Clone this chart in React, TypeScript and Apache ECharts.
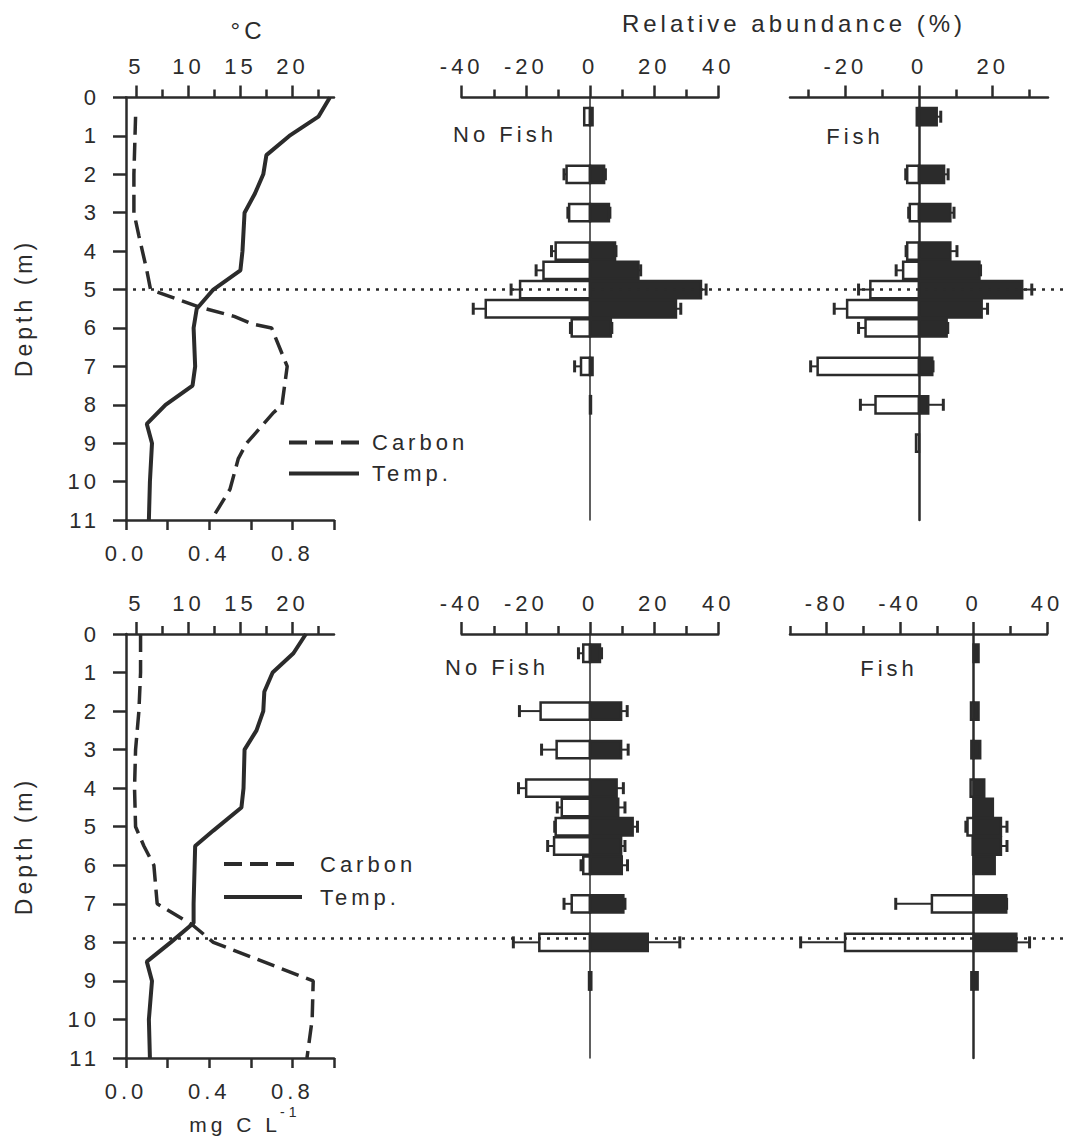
import React, { useEffect, useRef } from 'react';
import * as echarts from 'echarts';

const FONT = '"Liberation Sans", Arial, Helvetica, sans-serif';
const INK = '#2b2b2b';

// ---------- profiles (depth in m) ----------
const topTempDepth = [0, 0.5, 1, 1.5, 2, 2.5, 3, 4, 4.5, 5, 5.5, 6, 7, 7.5, 8, 8.5, 9, 10, 11];
const topTemp = [23.6, 22.5, 19.7, 17.5, 17.2, 16.4, 15.4, 15.2, 15.0, 12.4, 10.8, 10.5, 10.65, 10.4, 7.8, 6.0, 6.5, 6.3, 6.2];
const topCarbonDepth = [0.5, 2, 3, 3.6, 4.5, 5, 5.45, 5.7, 5.9, 6, 7, 8, 8.2, 9, 9.4, 10.2, 11];
const topCarbon = [0.046, 0.038, 0.038, 0.062, 0.1, 0.118, 0.35, 0.52, 0.61, 0.7, 0.775, 0.75, 0.71, 0.58, 0.54, 0.5, 0.41];

const botTempDepth = [0, 0.5, 1, 1.5, 2, 2.5, 3, 4, 4.5, 5.1, 5.5, 7, 7.5, 8, 8.5, 9, 10, 11];
const botTemp = [21.3, 20.1, 18.1, 17.3, 17.2, 16.55, 15.4, 15.3, 15.1, 12.4, 10.65, 10.5, 10.5, 8.3, 6.0, 6.5, 6.2, 6.3];
const botCarbonDepth = [0, 1, 2, 3, 4, 5, 5.5, 6, 7, 7.55, 8, 9, 10, 11];
const botCarbon = [0.07, 0.07, 0.062, 0.046, 0.041, 0.046, 0.086, 0.134, 0.15, 0.32, 0.42, 0.9, 0.895, 0.87];

const topThermocline = 5;
const botThermocline = 7.9;

// ---------- relative abundance (%) ----------
const sampleDepths = [0.5, 2, 3, 4, 4.5, 5, 5.5, 6, 7, 8, 9];

const topNoFishOpen = [-1.8, -7.3, -6.5, -10.7, -14.5, -21.8, -32.5, -5.7, -2.8, 0, 0];
const topNoFishOpenSE = [0, 0.8, 0.4, 1.3, 2.3, 2.8, 3.9, 0.4, 2.0, 0, 0];
const topNoFishFilled = [0.8, 4.4, 5.9, 7.8, 15.1, 34.6, 26.8, 6.5, 0.8, 0.3, 0];
const topNoFishFilledSE = [0, 0.4, 0.3, 0.3, 0.7, 1.6, 1.5, 0.3, 0, 0, 0];

const topFishOpen = [-0.6, -3.2, -2.5, -3.2, -4.3, -13.2, -19.5, -14.5, -27.5, -11.8, -0.8];
const topFishOpenSE = [0, 0.4, 0.3, 0.3, 1.9, 3.2, 3.5, 1.9, 1.9, 4.1, 0];
const topFishFilled = [4.8, 6.8, 8.5, 8.5, 16.4, 28, 17, 7.5, 3.6, 2.5, 0];
const topFishFilledSE = [1.1, 1.1, 1.0, 1.8, 0.3, 2.6, 1.6, 0.3, 0.2, 4.1, 0];

const botNoFishOpen = [-2.1, -15.4, -10.4, -19.9, -8.8, -10.7, -11.2, -2.1, -5.7, -15.8, -0.3];
const botNoFishOpenSE = [1.5, 6.6, 4.7, 2.4, 1.4, 0.3, 2.0, 0.7, 2.4, 8.1, 0];
const botNoFishFilled = [3.1, 9.7, 9.7, 8.3, 8.8, 13.3, 9.7, 9.9, 10.4, 18, 0.4];
const botNoFishFilledSE = [0.5, 1.9, 2.2, 2.1, 2.1, 1.5, 1.2, 1.8, 0.5, 10, 0];

const botFishOpen = [0, -1.4, -1.2, -1.6, 0, -3.3, -0.5, 0, -22.7, -70, -1.2];
const botFishOpenSE = [0, 0, 0, 0, 0, 0.9, 0, 0, 19.7, 24.2, 0];
const botFishFilled = [2.7, 2.7, 3.6, 5.8, 10.5, 14.9, 14.9, 11.5, 17.8, 23.3, 2.2];
const botFishFilledSE = [0, 0, 0, 0, 0, 3.3, 3.3, 0, 0.2, 7.2, 0];

// ---------- tick values ----------
const tempMajor = [5, 10, 15, 20];
const tempMinor = [7.5, 12.5, 17.5, 22.5];
const noFishMajor = [-40, -20, 0, 20, 40];
const noFishMinor = [-30, -10, 10, 30];
const topFishMajor = [-20, 0, 20];
const topFishMinor = [-30, -10, 10, 30];
const botFishMajor = [-80, -40, 0, 40];
const botFishMinor = [-100, -60, -20, 20];

const BAR_SPAN = 0.45; // bar thickness in metres of depth

const zip = (xs: number[], ys: number[]) => xs.map((x, i) => [x, ys[i]]);
const barData = (vals: number[], se: number[]) => sampleDepths.map((d, i) => [vals[i], d, se[i]]);

const axisLineStyle = { color: INK, width: 2.5 };
const labelBase = { fontSize: 22, color: INK, fontFamily: FONT };

function tickAxes(grid: number, pos: string, min: number, max: number, majors: number[], minors: number[], labels: number[], margin: number) {
  return [
    {
      type: 'value', gridIndex: grid, position: pos, min, max,
      axisLine: { show: true, onZero: false, lineStyle: axisLineStyle },
      axisTick: { show: true, inside: false, length: 12, customValues: majors, lineStyle: { color: INK, width: 2.5 } },
      axisLabel: { show: true, customValues: labels, formatter: (v: number) => String(v), margin, ...labelBase },
      splitLine: { show: false },
    },
    {
      type: 'value', gridIndex: grid, position: pos, min, max,
      axisLine: { show: false, onZero: false },
      axisTick: { show: true, inside: false, length: 8, customValues: minors, lineStyle: { color: INK, width: 2.5 } },
      axisLabel: { show: false },
      splitLine: { show: false },
    },
  ];
}

function carbonAxis(grid: number) {
  return {
    type: 'value', gridIndex: grid, position: 'bottom', min: 0, max: 1, interval: 0.2,
    axisLine: { show: true, onZero: false, lineStyle: axisLineStyle },
    axisTick: { show: true, inside: false, length: 10, lineStyle: { color: INK, width: 2.5 } },
    axisLabel: {
      margin: 22, ...labelBase,
      formatter: (v: number) => (Math.round(v * 10) % 4 === 0 && v < 0.95 ? v.toFixed(1) : ''),
    },
    splitLine: { show: false },
  };
}

function depthAxisLeft(grid: number) {
  return {
    type: 'value', gridIndex: grid, min: 0, max: 11, interval: 1, inverse: true, position: 'left',
    axisLine: { show: true, onZero: false, lineStyle: axisLineStyle },
    axisTick: { show: true, inside: false, length: 13, lineStyle: { color: INK, width: 2.5 } },
    axisLabel: { margin: 26, ...labelBase },
    splitLine: { show: false },
  };
}

function depthAxisZero(grid: number, xIdx: number, w: number) {
  return {
    type: 'value', gridIndex: grid, min: 0, max: 11, interval: 1, inverse: true,
    axisLine: { show: true, onZero: true, onZeroAxisIndex: xIdx, lineStyle: { color: INK, width: w } },
    axisTick: { show: false }, axisLabel: { show: false }, splitLine: { show: false },
  };
}

const barRender = (fill: string) => (params: any, api: any) => {
  const v = api.value(0);
  const d = api.value(1);
  const se = api.value(2);
  if (!v) return null;
  const p0 = api.coord([0, d]);
  const p1 = api.coord([v, d]);
  const h = api.size([0, BAR_SPAN])[1];
  const children: any[] = [];
  if (se > 0) {
    const pe = api.coord([v + Math.sign(v) * se, d]);
    children.push({ type: 'line', shape: { x1: p1[0], y1: p1[1], x2: pe[0], y2: pe[1] }, style: { stroke: INK, lineWidth: 2 } });
    children.push({ type: 'line', shape: { x1: pe[0], y1: pe[1] - 6, x2: pe[0], y2: pe[1] + 6 }, style: { stroke: INK, lineWidth: 3 } });
  }
  children.push({
    type: 'rect',
    shape: { x: Math.min(p0[0], p1[0]), y: p0[1] - h / 2, width: Math.abs(p1[0] - p0[0]), height: h },
    style: { fill, stroke: INK, lineWidth: 2.5 },
  });
  return { type: 'group', children };
};

function barSeries(name: string, xIdx: number, yIdx: number, vals: number[], se: number[], fill: string) {
  return {
    type: 'custom', name, xAxisIndex: xIdx, yAxisIndex: yIdx, clip: false, z: 3, silent: true,
    encode: { x: 0, y: 1 },
    data: barData(vals, se),
    renderItem: barRender(fill),
  };
}

function thermoSeries(xIdx: number, yIdx: number, depth: number) {
  return {
    type: 'custom', xAxisIndex: xIdx, yAxisIndex: yIdx, clip: false, z: 10, silent: true,
    encode: { x: 0, y: 1 },
    data: [[0, depth]],
    renderItem: (params: any, api: any) => {
      const pt = api.coord([api.value(0), api.value(1)]);
      return {
        type: 'line',
        shape: { x1: pt[0] + 7, y1: pt[1], x2: api.getWidth(), y2: pt[1] },
        style: { stroke: INK, lineWidth: 2.5, lineDash: [3, 6] },
      };
    },
  };
}

function lineSeries(name: string, xIdx: number, yIdx: number, xs: number[], ds: number[], dashed: boolean) {
  return {
    type: 'line', name, xAxisIndex: xIdx, yAxisIndex: yIdx, data: zip(xs, ds),
    symbol: 'none', showSymbol: false, z: 5, silent: true,
    lineStyle: { color: INK, width: dashed ? 3.5 : 4, type: dashed ? [18, 8] : 'solid' },
    itemStyle: { color: INK },
  };
}

function txt(text: string, x: number, y: number, size: number, extra: any = {}, align = 'center') {
  return {
    type: 'text', x, y, silent: true, ...extra,
    style: { text, fontSize: size, fontFamily: FONT, fill: INK, align, verticalAlign: 'middle', textAlign: align, textVerticalAlign: 'middle' },
  };
}

const TOP = 97.5;
const TOP_H = 422.5;
const BOT = 634;
const BOT_H = 424;

const legendCommon = {
  orient: 'vertical', selectedMode: false, padding: 0,
  itemStyle: { opacity: 0 }, lineStyle: { width: 4 },
};

const option: any = {
  animation: false,
  backgroundColor: '#ffffff',
  grid: [
    { left: 126, top: TOP, width: 208, height: TOP_H, outerBoundsMode: 'none' },
    { left: 461.7, top: TOP, width: 256.6, height: TOP_H, outerBoundsMode: 'none' },
    { left: 790, top: TOP, width: 258, height: TOP_H, outerBoundsMode: 'none' },
    { left: 126, top: BOT, width: 208, height: BOT_H, outerBoundsMode: 'none' },
    { left: 461.7, top: BOT, width: 256.6, height: BOT_H, outerBoundsMode: 'none' },
    { left: 790, top: BOT, width: 257, height: BOT_H, outerBoundsMode: 'none' },
  ],
  xAxis: [
    carbonAxis(0), // 0
    ...tickAxes(0, 'top', 4, 24, tempMajor, tempMinor, tempMajor, 20), // 1,2
    ...tickAxes(1, 'top', -40, 40, noFishMajor, noFishMinor, noFishMajor, 20), // 3,4
    ...tickAxes(2, 'top', -35, 35, topFishMajor, topFishMinor, topFishMajor, 20), // 5,6
    carbonAxis(3), // 7
    ...tickAxes(3, 'top', 4, 24, tempMajor, tempMinor, tempMajor, 20), // 8,9
    ...tickAxes(4, 'top', -40, 40, noFishMajor, noFishMinor, noFishMajor, 20), // 10,11
    ...tickAxes(5, 'top', -100, 40, botFishMajor, botFishMinor, botFishMajor, 20), // 12,13
  ],
  yAxis: [
    depthAxisLeft(0),
    depthAxisZero(1, 3, 1.5),
    depthAxisZero(2, 5, 2.5),
    depthAxisLeft(3),
    depthAxisZero(4, 10, 1.5),
    depthAxisZero(5, 12, 2.5),
  ],
  legend: [
    {
      ...legendCommon,
      data: ['Carbon', 'Temp.'], left: 287, top: 431.5,
      itemWidth: 70, itemHeight: 22, itemGap: 9,
      textStyle: { fontSize: 22, color: INK, fontFamily: FONT, padding: [0, 0, 0, 8] },
    },
    {
      ...legendCommon,
      data: ['Carbon', 'Temp.'], left: 222, top: 853,
      itemWidth: 78, itemHeight: 22, itemGap: 11,
      textStyle: { fontSize: 22, color: INK, fontFamily: FONT, padding: [0, 0, 0, 13] },
    },
  ],
  series: [
    lineSeries('Carbon', 0, 0, topCarbon, topCarbonDepth, true),
    lineSeries('Temp.', 1, 0, topTemp, topTempDepth, false),
    lineSeries('Carbon', 7, 3, botCarbon, botCarbonDepth, true),
    lineSeries('Temp.', 8, 3, botTemp, botTempDepth, false),
    barSeries('No Fish open (top)', 3, 1, topNoFishOpen, topNoFishOpenSE, '#ffffff'),
    barSeries('No Fish filled (top)', 3, 1, topNoFishFilled, topNoFishFilledSE, INK),
    barSeries('Fish open (top)', 5, 2, topFishOpen, topFishOpenSE, '#ffffff'),
    barSeries('Fish filled (top)', 5, 2, topFishFilled, topFishFilledSE, INK),
    barSeries('No Fish open (bottom)', 10, 4, botNoFishOpen, botNoFishOpenSE, '#ffffff'),
    barSeries('No Fish filled (bottom)', 10, 4, botNoFishFilled, botNoFishFilledSE, INK),
    barSeries('Fish open (bottom)', 12, 5, botFishOpen, botFishOpenSE, '#ffffff'),
    barSeries('Fish filled (bottom)', 12, 5, botFishFilled, botFishFilledSE, INK),
    thermoSeries(0, 0, topThermocline),
    thermoSeries(7, 3, botThermocline),
  ],
  graphic: [
    txt('°C', 248, 30, 24),
    txt('Relative abundance (%)', 794, 23, 24),
    txt('Depth (m)', 24, 308, 23, { rotation: Math.PI / 2 }),
    txt('Depth (m)', 24, 846, 23, { rotation: Math.PI / 2 }),
    txt('No Fish', 505, 134, 22),
    txt('Fish', 855, 136, 22),
    txt('No Fish', 497, 667, 22),
    txt('Fish', 889, 668, 22),
    txt('mg C L', 281, 1124, 21, {}, 'right'),
    txt('-1', 280, 1112, 14, {}, 'left'),
  ],
};

export default function App() {
  const ref = useRef<HTMLDivElement>(null);
  useEffect(() => {
    const chart = echarts.init(ref.current as HTMLDivElement, null, { renderer: 'svg' });
    chart.setOption(option);
    return () => chart.dispose();
  }, []);
  return (
    <div
      ref={ref}
      style={{ position: 'absolute', left: 0, top: 0, width: 1066, height: 1138, background: '#ffffff', letterSpacing: '4px' }}
    />
  );
}
